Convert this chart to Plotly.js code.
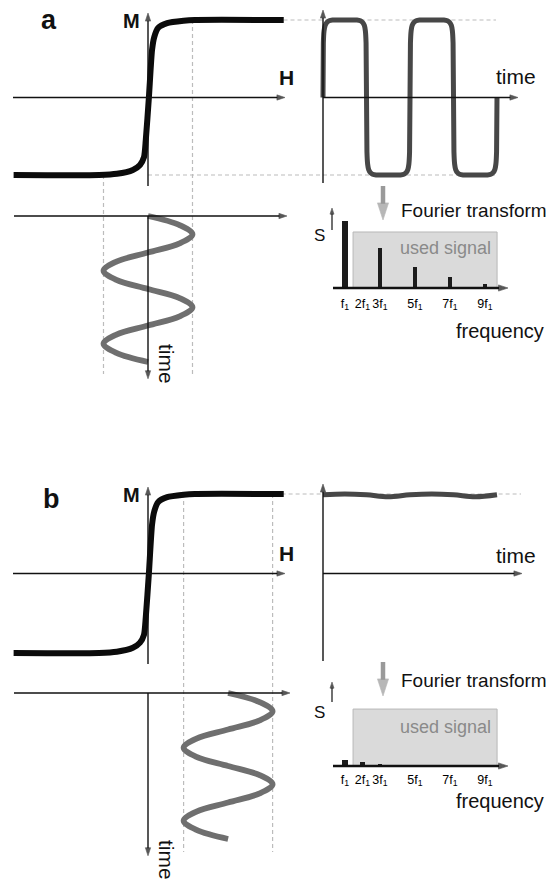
<!DOCTYPE html>
<html><head><meta charset="utf-8">
<script src="https://cdn.plot.ly/plotly-3.0.1.min.js"></script>
<style>html,body{margin:0;padding:0;background:#fff}#chart{width:555px;height:881px}</style>
</head><body><div id="chart"></div>
<script>
// ---------------- data ----------------
// magnetisation curve M(H), H in units of the drive amplitude
const H_loop = [-3.02, -1.1, -0.7, -0.34, -0.18, -0.09, -0.05, 0.02, 0.09, 0.14, 0.23, 0.43, 0.8, 1.05, 3.05];
const M_loop = [-1.0, -1.0, -0.985, -0.935, -0.87, -0.77, -0.55, 0.0, 0.61, 0.78, 0.9, 0.96, 0.99, 1.0, 1.0];

// panel a: particle response in time (t in drive periods)
const t_square = [0, 0.004, 0.012, 0.025, 0.045, 0.07, 0.11,
  0.39, 0.43, 0.455, 0.475, 0.487, 0.495, 0.505, 0.513, 0.525, 0.545, 0.57, 0.61,
  0.89, 0.93, 0.955, 0.975, 0.987, 0.995, 1.005, 1.013, 1.025, 1.045, 1.07, 1.11,
  1.39, 1.43, 1.455, 1.475, 1.487, 1.495, 1.505, 1.513, 1.525, 1.545, 1.57, 1.61,
  1.89, 1.93, 1.955, 1.975, 1.987, 1.995, 2.0];
const M_square = [0, 0.7, 0.86, 0.93, 0.97, 0.99, 1.0,
  1.0, 0.99, 0.97, 0.93, 0.86, 0.7, -0.7, -0.86, -0.93, -0.97, -0.99, -1.0,
  -1.0, -0.99, -0.97, -0.93, -0.86, -0.7, 0.7, 0.86, 0.93, 0.97, 0.99, 1.0,
  1.0, 0.99, 0.97, 0.93, 0.86, 0.7, -0.7, -0.86, -0.93, -0.97, -0.99, -1.0,
  -1.0, -0.99, -0.97, -0.93, -0.86, -0.7, 0];

// drive field vs time
const t_drive = [0, 0.125, 0.25, 0.375, 0.5, 0.625, 0.75, 0.875, 1.0, 1.125, 1.25, 1.375, 1.5, 1.625, 1.75, 1.875, 2.0];
const H_drive_a = [0, 0.71, 1, 0.71, 0, -0.71, -1, -0.71, 0, 0.71, 1, 0.71, 0, -0.71, -1, -0.71, 0];
const H_drive_b = [1.8, 2.51, 2.8, 2.51, 1.8, 1.09, 0.8, 1.09, 1.8, 2.51, 2.8, 2.51, 1.8, 1.09, 0.8, 1.09, 1.8];

// panel b: saturated response
const t_flat = [0, 0.25, 0.5, 0.75, 1.0, 1.25, 1.5, 1.75, 2.0];
const M_flat = [0.99, 1.0, 0.99, 0.965, 0.99, 1.0, 0.99, 0.965, 0.99];

// spectra
const harm_a = [1, 3, 5, 7, 9];
const S_a = [1.0, 0.6, 0.31, 0.16, 0.06];
const harm_b = [1, 2, 3, 5];
const S_b = [0.09, 0.055, 0.025, 0.012];
const tickVals = [1, 2, 3, 5, 7, 9];
const tickText = ['f<sub>1</sub>', '2f<sub>1</sub>', '3f<sub>1</sub>', '5f<sub>1</sub>', '7f<sub>1</sub>', '9f<sub>1</sub>'];
const usedBand = [1.46, 9.69];

// ---------------- geometry ----------------
const W = 555, HT = 881;
const FONT = 'Liberation Sans, Arial, Helvetica, sans-serif';
const G = {
  loopX:  {o: 148,   s: 44.5, lo: 8,   hi: 292},
  respX:  {o: 323,   s: 87,   lo: 316, hi: 524},
  specX:  {o: 327.5, s: 17.5, lo: 325, hi: 512},
  loopYa: {o: 97.5,  s: 77.5, lo: 8,   hi: 192, dir: 'up'},
  driveYa:{o: 216,   s: 73,   lo: 200, hi: 386, dir: 'down'},
  specYa: {o: 288,   s: 67,   lo: 195, hi: 294, dir: 'up'},
  loopYb: {o: 573.5, s: 79.5, lo: 484, hi: 668, dir: 'up'},
  driveYb:{o: 693,   s: 73,   lo: 678, hi: 866, dir: 'down'},
  specYb: {o: 766,   s: 67,   lo: 680, hi: 770, dir: 'up'}
};
function pos(d, v) { return d.dir === 'up' ? d.o - v * d.s : d.o + v * d.s; }
function xAx(d, anchor) {
  return {domain: [d.lo / W, d.hi / W], range: [(d.lo - d.o) / d.s, (d.hi - d.o) / d.s],
          visible: false, fixedrange: true, anchor: anchor};
}
function yAx(d, anchor) {
  const r = d.dir === 'up' ? [(d.o - d.hi) / d.s, (d.o - d.lo) / d.s] : [(d.hi - d.o) / d.s, (d.lo - d.o) / d.s];
  return {domain: [1 - d.hi / HT, 1 - d.lo / HT], range: r, visible: false, fixedrange: true, anchor: anchor};
}
function specAx(d, anchor) {
  return {domain: [d.lo / W, d.hi / W], range: [(d.lo - d.o) / d.s, (d.hi - d.o) / d.s],
          visible: true, showline: false, showgrid: false, zeroline: false, ticks: '',
          tickmode: 'array', tickvals: tickVals, ticktext: tickText,
          tickfont: {family: FONT, size: 12.5, color: '#000'}, fixedrange: true, anchor: anchor};
}

// ---------------- traces ----------------
const loopLine = {color: '#0b0b0b', width: 6, shape: 'spline', smoothing: 0.6};
const sineLine = {color: '#6f6f6f', width: 5.8, shape: 'spline', smoothing: 1};
const respLine = {color: '#474747', width: 5, shape: 'spline', smoothing: 0.3};
const traces = [
  {x: H_loop, y: M_loop, xaxis: 'x', yaxis: 'y', mode: 'lines', line: loopLine},
  {x: t_square, y: M_square, xaxis: 'x2', yaxis: 'y2', mode: 'lines', line: respLine},
  {x: H_drive_a, y: t_drive, xaxis: 'x3', yaxis: 'y3', mode: 'lines', line: sineLine},
  {x: harm_a, y: S_a, xaxis: 'x4', yaxis: 'y4', type: 'bar', width: [0.31, 0.23, 0.23, 0.23, 0.27],
   marker: {color: '#1c1c1c', line: {width: 0}}},
  {x: H_loop, y: M_loop, xaxis: 'x5', yaxis: 'y5', mode: 'lines', line: loopLine},
  {x: t_flat, y: M_flat, xaxis: 'x6', yaxis: 'y6', mode: 'lines', line: {color: '#474747', width: 5, shape: 'spline'}},
  {x: H_drive_b, y: t_drive, xaxis: 'x7', yaxis: 'y7', mode: 'lines', line: sineLine},
  {x: harm_b, y: S_b, xaxis: 'x8', yaxis: 'y8', type: 'bar', width: [0.34, 0.25, 0.2, 0.2],
   marker: {color: '#1c1c1c', line: {width: 0}}}
];

// axis arrows: line traces with an arrow marker at the head,
// on a full-figure overlay axis measured in pixels
function arrow(x0, y0, x1, y1, o) {
  o = o || {};
  const c = o.color || '#111';
  traces.push({x: [x0, x1], y: [y0, y1], xaxis: 'x9', yaxis: 'y9', mode: 'lines+markers',
    line: {color: c, width: o.width || 1.4}, hoverinfo: 'skip',
    marker: {symbol: 'arrow', size: [0, o.head || 8.5], angleref: 'previous', color: c,
             line: {width: 0.6, color: c}}});
}
function label(t, x, y, size, o) {
  o = o || {};
  return {xref: 'paper', yref: 'paper', x: x / W, y: 1 - y / HT, text: t, showarrow: false,
          xanchor: 'center', yanchor: 'middle', textangle: o.angle || 0,
          font: {family: FONT, size: size, color: o.color || '#111', weight: o.bold ? 'bold' : 'normal'}};
}
const ann = [];
function panel(Y, driveY, specY, tag) {
  const y0 = pos(Y, 0), x0 = pos(G.loopX, 0);
  const tx0 = pos(G.respX, 0);
  const d0 = pos(driveY, 0);
  const s0 = pos(specY, 0);
  arrow(13, y0, 285, y0);                                   // H axis
  arrow(x0, pos(Y, -1) + 11, x0, pos(Y, 1) - 7);            // M axis
  arrow(tx0, pos(Y, -1) + 8, tx0, pos(Y, 1) - 10);          // response vertical axis
  arrow(tx0, y0, tag === 'a' ? 518 : 522, y0);              // time axis
  arrow(14, d0, tag === 'a' ? 287 : 290, d0);               // drive H axis
  arrow(x0, d0, x0, pos(driveY, 2.23));                     // drive time axis
  arrow(333, s0, 508, s0, {width: 2.6, head: 10});          // frequency axis
  if (tag === 'a') arrow(332, s0 - 58, 332, s0 - 80, {width: 1.2, head: 6.5});
  else arrow(332, s0 - 64, 332, s0 - 84, {width: 1.2, head: 6.5});
  const fy = tag === 'a' ? 186 : 662;
  arrow(383, fy, 383, fy + 34, {width: 4.5, head: 18, color: '#9a9a9a'});
  ann.push(label('M', 131, pos(Y, 1) + 1, 20, {bold: true}));
  ann.push(label('H', 286, y0 - 20, 21, {bold: true}));
  ann.push(label('time', 516, tag === 'a' ? 76 : 555, 21));
  ann.push(label('Fourier transform', 474, tag === 'a' ? 211 : 680, 19));
  ann.push(label('S', 319, tag === 'a' ? 235 : 712, 17));
  ann.push(label('used signal', 445, tag === 'a' ? 248 : 727, 18, {color: '#8a8a8a'}));
  ann.push(label('frequency', 500, tag === 'a' ? 331 : 801, 20));
  ann.push(label('time', 167, tag === 'a' ? 364 : 860, 21, {angle: 90}));
}
panel(G.loopYa, G.driveYa, G.specYa, 'a');
panel(G.loopYb, G.driveYb, G.specYb, 'b');
ann.push(label('a', 49, 20, 27, {bold: true}));
ann.push(label('b', 51, 499, 27, {bold: true}));

// ---------------- shapes ----------------
const dashLine = {color: '#bcbcbc', width: 1.2, dash: '4px,3px'};
function seg(x0, y0, x1, y1) {
  return {type: 'line', xref: 'paper', yref: 'paper', x0: x0 / W, y0: 1 - y0 / HT, x1: x1 / W, y1: 1 - y1 / HT,
          line: dashLine, layer: 'below'};
}
const X = G.loopX;
const shapes = [
  seg(pos(X, -1), pos(G.loopYa, -1), pos(X, -1), 374),
  seg(pos(X, 1), pos(G.loopYa, 1), pos(X, 1), 374),
  seg(pos(X, 1), pos(G.loopYa, 1), 496, pos(G.loopYa, 1)),
  seg(pos(X, 0), pos(G.loopYa, -1), 496, pos(G.loopYa, -1)),
  seg(pos(X, 0.8), pos(G.loopYb, 1), pos(X, 0.8), 852),
  seg(pos(X, 2.8), pos(G.loopYb, 1), pos(X, 2.8), 852),
  seg(pos(X, 0.8), pos(G.loopYb, 1), 521, pos(G.loopYb, 1)),
  {type: 'rect', xref: 'x4', yref: 'y4', x0: usedBand[0], x1: usedBand[1], y0: 0, y1: 0.836,
   fillcolor: '#dadada', line: {color: '#b8b8b8', width: 1}, layer: 'below'},
  {type: 'rect', xref: 'x8', yref: 'y8', x0: usedBand[0], x1: usedBand[1], y0: 0, y1: 0.85,
   fillcolor: '#dadada', line: {color: '#b8b8b8', width: 1}, layer: 'below'}
];

const layout = {
  width: W, height: HT, margin: {l: 0, r: 0, t: 0, b: 0, pad: 0},
  paper_bgcolor: '#ffffff', plot_bgcolor: 'rgba(0,0,0,0)', showlegend: false,
  font: {family: FONT},
  xaxis: xAx(G.loopX, 'y'), yaxis: yAx(G.loopYa, 'x'),
  xaxis2: xAx(G.respX, 'y2'), yaxis2: yAx(G.loopYa, 'x2'),
  xaxis3: xAx(G.loopX, 'y3'), yaxis3: yAx(G.driveYa, 'x3'),
  xaxis4: specAx(G.specX, 'y4'), yaxis4: yAx(G.specYa, 'x4'),
  xaxis5: xAx(G.loopX, 'y5'), yaxis5: yAx(G.loopYb, 'x5'),
  xaxis6: xAx(G.respX, 'y6'), yaxis6: yAx(G.loopYb, 'x6'),
  xaxis7: xAx(G.loopX, 'y7'), yaxis7: yAx(G.driveYb, 'x7'),
  xaxis8: specAx(G.specX, 'y8'), yaxis8: yAx(G.specYb, 'x8'),
  xaxis9: {domain: [0, 1], range: [0, W], visible: false, fixedrange: true, anchor: 'y9'},
  yaxis9: {domain: [0, 1], range: [HT, 0], visible: false, fixedrange: true, anchor: 'x9'},
  annotations: ann, shapes: shapes, bargap: 0
};
Plotly.newPlot('chart', traces, layout, {staticPlot: true, displayModeBar: false});
</script>
</body></html>
